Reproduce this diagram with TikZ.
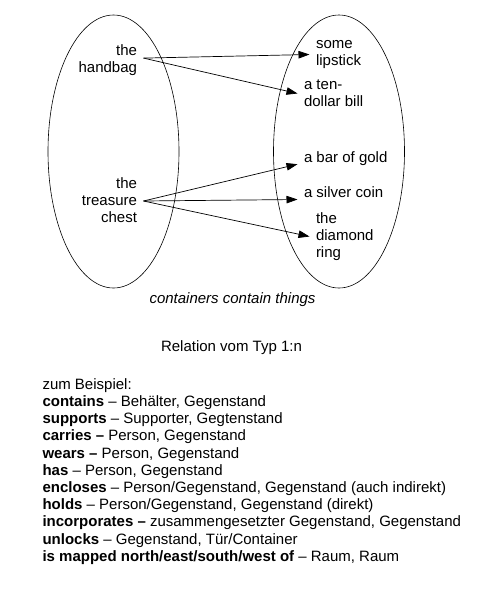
\documentclass[tikz,border=0pt]{standalone}
\usepackage{fontspec}
\setmainfont{Liberation Sans}
\usetikzlibrary{arrows.meta,positioning,shapes.geometric}

\begin{document}
\begin{tikzpicture}[x=1pt, y=-1pt, font=\fontsize{15}{17.2}\selectfont,
  thing/.style={inner sep=3pt, outer sep=3.5pt},
  maps/.style={-{Triangle[length=11pt,width=7.5pt]}, line width=0.7pt},
  set/.style={ellipse, draw, line width=0.6pt, minimum width=131pt, minimum height=273pt, inner sep=0pt}]
\useasboundingbox (0,0) rectangle (500,592);
% the two sets
\node[set] (dom) at (113.5,151.5) {};
\node[set] (cod) at (339,151.5) {};
% containers
\node[thing, align=right, anchor=east] (bag) at (143.5,60.5) {the\\handbag};
\node[thing, align=right, anchor=east] (chest) at (143.5,200) {the\\treasure\\chest};
% things
\node[thing, align=left, anchor=west] (lip) at (309.5,54.5) {some\\lipstick};
\node[thing, align=left, anchor=west] (bill) at (297.5,93.5) {a ten-\\dollar bill};
\node[thing, align=left, anchor=west] (gold) at (297.5,158.2) {a bar of gold};
\node[thing, align=left, anchor=west] (coin) at (297.5,192.5) {a silver coin};
\node[thing, align=left, anchor=west] (ring) at (309.5,236.5) {the\\diamond\\ring};
% contains
\draw[maps] ([yshift=2.4pt]bag.east) -- (lip.west);
\draw[maps] ([yshift=2.4pt]bag.east) -- (bill.west);
\draw[maps] ([yshift=-1pt]chest.east) -- ([yshift=-6pt]gold.west);
\draw[maps] ([yshift=-1pt]chest.east) -- ([yshift=-7pt]coin.west);
\draw[maps] ([yshift=-1pt]chest.east) -- (ring.west);
% captions
\node[font=\fontsize{15}{17.2}\selectfont\itshape] (cap) at (232.5,300) {containers contain things};
\node (typ) at (231.5,348) {Relation vom Typ 1:n};
\node[align=left, anchor=north west, inner sep=0pt] (list) at (42.3,378.3) {zum Beispiel:\\
  \textbf{contains} -- Behälter, Gegenstand\\
  \textbf{supports} -- Supporter, Gegtenstand\\
  \textbf{carries --} Person, Gegenstand\\
  \textbf{wears --} Person, Gegenstand\\
  \textbf{has} -- Person, Gegenstand\\
  \textbf{encloses} -- Person/Gegenstand, Gegenstand (auch indirekt)\\
  \textbf{holds} -- Person/Gegenstand, Gegenstand (direkt)\\
  \textbf{incorporates --} zusammengesetzter Gegenstand, Gegenstand\\
  \textbf{unlocks} -- Gegenstand, Tür/Container\\
  \textbf{is mapped north/east/south/west of} -- Raum, Raum};
\end{tikzpicture}
\end{document}
